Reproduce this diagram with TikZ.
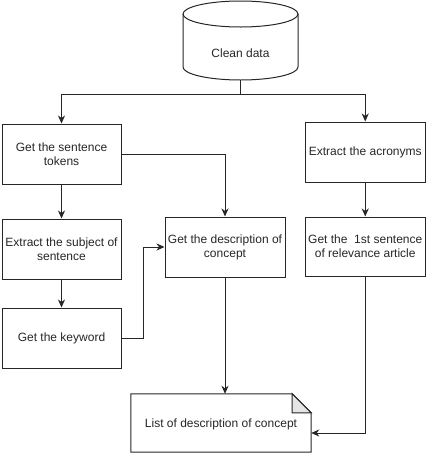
\documentclass[tikz,border=0pt]{standalone}
\usepackage{fontspec}
\setmainfont{Liberation Sans}
\usetikzlibrary{arrows.meta}
\begin{document}
\begin{tikzpicture}[x=1pt,y=-1pt,
  every node/.style={font=\fontsize{12}{14}\selectfont, text=black!85},
  boxst/.style={draw=black!85, line width=1pt, align=center, minimum height=60pt, inner sep=1pt},
  arr/.style={draw=black!85, line width=1pt, -{Stealth[length=8pt,width=7pt,inset=2.5pt]}},
  ln/.style={draw=black!85, line width=1pt}]
\useasboundingbox (0,0) rectangle (426,453);
% cylinder
\draw[ln] (183,14) -- (183,67) arc[start angle=180,end angle=360,x radius=57.5pt,y radius=13pt] -- (298,14);
\draw[ln] (240.5,14) ellipse[x radius=57.5pt,y radius=13pt];
\node[minimum width=115pt,minimum height=79pt,inner sep=0pt] (clean) at (240.5,40.5) {};
\node at (240.5,53) {Clean data};
% boxes
\node[boxst,minimum width=119pt] (tok) at (61.5,154) {Get the sentence\\tokens};
\node[boxst,minimum width=119pt] (subj) at (61.5,249) {Extract the subject of\\sentence};
\node[boxst,minimum width=119pt] (key) at (61.5,338) {Get the keyword};
\node[boxst,minimum width=120pt] (desc) at (225,247) {Get the description of\\concept};
\node[boxst,minimum width=120pt] (acr) at (365.25,152) {Extract the acronyms};
\node[boxst,minimum width=120pt,minimum height=59pt] (first) at (365.25,246.5) {Get the \ 1st sentence\\of relevance article};
\node[minimum width=180pt,minimum height=58pt,inner sep=0pt] (list) at (221,423) {};
\node at (221,424) {List of description of concept};
% note shape
\draw[ln] (list.north west) -- ([xshift=-19pt]list.north east) -- ([yshift=-19pt]list.north east) -- (list.south east) -- (list.south west) -- cycle;
\draw[ln, fill=black!10] ([xshift=-19pt]list.north east) -- ([xshift=-19pt,yshift=-19pt]list.north east) -- ([yshift=-19pt]list.north east) -- cycle;
% connectors
\coordinate (split) at (240.5,94);
\draw[ln] (clean.south) -- (split);
\draw[arr] (split) -| (tok.north);
\draw[arr] (split) -| (acr.north);
\draw[arr] (tok.east) -| (desc.north);
\draw[arr] (tok.south) -- (subj.north);
\draw[arr] (subj.south) -- (key.north);
\draw[arr] (key.east) -- ++(22,0) |- (desc.west);
\draw[arr] (desc.south) -- (desc.south |- list.north);
\draw[arr] (acr.south) -- (first.north);
\draw[arr] (first.south) |- ([yshift=-10pt]list.east);
\end{tikzpicture}
\end{document}
